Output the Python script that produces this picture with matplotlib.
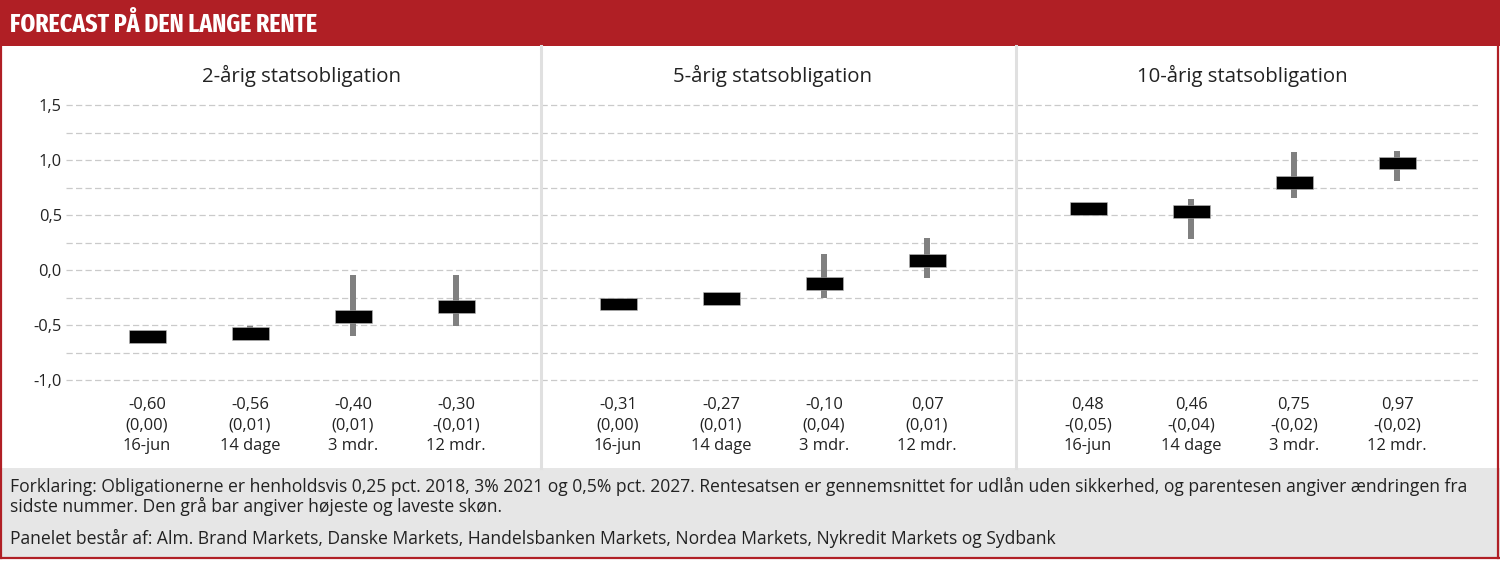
import matplotlib
matplotlib.use("Agg")
import os
import matplotlib.pyplot as plt
import matplotlib.font_manager as fm
import numpy as np
from matplotlib.patches import Rectangle
from matplotlib.lines import Line2D
from matplotlib.transforms import blended_transform_factory

# ---------------- data ----------------
panel_titles = ["2-årig statsobligation", "5-årig statsobligation", "10-årig statsobligation"]
horizons = ["16-jun", "14 dage", "3 mdr.", "12 mdr."]

# forecast level (centre of black bar)
level_2y = [-0.605, -0.574, -0.42, -0.33]
level_5y = [-0.31, -0.262, -0.122, 0.087]
level_10y = [0.562, 0.535, 0.795, 0.973]

# highest / lowest forecast (grey bar), nan = no range shown
high_2y = [np.nan, -0.509, -0.042, -0.042]
low_2y = [np.nan, -0.60, -0.603, -0.51]
high_5y = [np.nan, np.nan, 0.145, 0.295]
low_5y = [np.nan, np.nan, -0.25, -0.072]
high_10y = [np.nan, 0.642, 1.071, 1.083]
low_10y = [np.nan, 0.285, 0.654, 0.808]

# label values under each bar
value_2y = ["-0,60", "-0,56", "-0,40", "-0,30"]
change_2y = ["(0,00)", "(0,01)", "(0,01)", "-(0,01)"]
value_5y = ["-0,31", "-0,27", "-0,10", "0,07"]
change_5y = ["(0,00)", "(0,01)", "(0,04)", "(0,01)"]
value_10y = ["0,48", "0,46", "0,75", "0,97"]
change_10y = ["-(0,05)", "-(0,04)", "-(0,02)", "-(0,02)"]

yticks = [-1.0, -0.5, 0.0, 0.5, 1.0, 1.5]
ytick_labels = ["-1,0", "-0,5", "0,0", "0,5", "1,0", "1,5"]

title = "FORECAST PÅ DEN LANGE RENTE"
note1 = ("Forklaring: Obligationerne er henholdsvis 0,25 pct. 2018, 3% 2021 og 0,5% pct. 2027. "
         "Rentesatsen er gennemsnittet for udlån uden sikkerhed, og parentesen angiver ændringen fra")
note2 = "sidste nummer. Den grå bar angiver højeste og laveste skøn."
note3 = ("Panelet består af: Alm. Brand Markets, Danske Markets, Handelsbanken Markets, "
         "Nordea Markets, Nykredit Markets og Sydbank")

# ---------------- style ----------------
plt.rcParams['font.family'] = ['Open Sans', 'DejaVu Sans']
RED = "#B01F25"
FOOT = "#E6E6E6"
SEP = "#E0E0E0"
TXT = "#222222"
GRID = "#CACACA"


def find_condensed_bold():
    best, best_score = None, -1
    for f in fm.fontManager.ttflist:
        nm = (f.name + " " + os.path.basename(f.fname)).lower()
        if "extracondensed" in nm or "extra condensed" in nm:
            score = 40
        elif "semicondensed" in nm or "semi condensed" in nm:
            score = 20
        elif "condensed" in nm:
            score = 30
        elif "narrow" in nm:
            score = 25
        else:
            continue
        if "italic" in nm or "oblique" in nm:
            continue
        w = f.weight if isinstance(f.weight, int) else 400
        if "extrabold" in nm or "black" in nm:
            score += 6
        elif "bold" in nm and "semibold" not in nm:
            score += 8
        elif "semibold" in nm:
            score += 4
        elif w >= 600:
            score += 5
        if "mono" in nm or "serif" in nm.replace("sans", ""):
            score -= 15
        if score > best_score:
            best, best_score = f.fname, score
    return best


W, H = 1500, 561
fig = plt.figure(figsize=(W / 100, H / 100), dpi=100)


def fx(px):
    return px / W


def fy(py):
    return 1 - py / H


# background pieces
fig.patches.append(Rectangle((0, fy(46)), 1, 46 / H, transform=fig.transFigure,
                             facecolor=RED, edgecolor="none", zorder=0))
fig.patches.append(Rectangle((0, fy(558)), 1, (558 - 468) / H, transform=fig.transFigure,
                             facecolor=FOOT, edgecolor="none", zorder=0))
fig.add_artist(Line2D([fx(1), fx(1)], [fy(0), fy(558)], transform=fig.transFigure, color=RED, lw=1.6))
fig.add_artist(Line2D([fx(1498), fx(1498)], [fy(0), fy(558)], transform=fig.transFigure, color=RED, lw=1.6))
fig.add_artist(Line2D([fx(0), fx(1499)], [fy(558), fy(558)], transform=fig.transFigure, color=RED, lw=1.6))

# title in a condensed bold face if one is installed
cf = find_condensed_bold()
if cf:
    tprop = fm.FontProperties(fname=cf, size=23)
else:
    tprop = fm.FontProperties(family="DejaVu Sans", weight="bold", size=23)
ttl = fig.text(fx(10), fy(25), title, color="white", fontproperties=tprop,
               va="center", ha="left")
renderer = fig.canvas.get_renderer()
tw = ttl.get_window_extent(renderer).width
target_w = 308
if tw > target_w * 1.03:
    tprop.set_size(23 * target_w / tw)
    ttl.set_fontproperties(tprop)

levels = [level_2y, level_5y, level_10y]
highs = [high_2y, high_5y, high_10y]
lows = [low_2y, low_5y, low_10y]
values = [value_2y, value_5y, value_10y]
changes = [change_2y, change_5y, change_10y]

# axes placement (pixels): left, right, and first-category centre
panels_px = [(66, 541, 147), (541, 1016, 618), (1016, 1478, 1088)]
step = 103.0
ax_bottom, ax_top = 391, 94

x = np.arange(len(horizons))
for i, (l, r, c0) in enumerate(panels_px):
    ax = fig.add_axes([fx(l), fy(ax_bottom), (r - l) / W, (ax_bottom - ax_top) / H])
    ax.set_facecolor("none")
    ax.set_xlim(-(c0 - l) / step, 3 + (r - (c0 + 3 * step)) / step)
    ax.set_ylim(-1.1, 1.6)
    for s in ax.spines.values():
        s.set_visible(False)
    for g in np.arange(-1.0, 1.51, 0.25):
        ax.axhline(g, color=GRID, lw=0.9, dashes=(5, 2.6), zorder=1)
    hi = np.array(highs[i], dtype=float)
    lo = np.array(lows[i], dtype=float)
    m = ~np.isnan(hi)
    ax.bar(x[m], (hi - lo)[m], bottom=lo[m], width=6 / step, color="#808080",
           edgecolor="none", zorder=2)
    lev = np.array(levels[i])
    hh = 0.116
    ax.bar(x, hh, bottom=lev - hh / 2, width=37 / step, color="black",
           edgecolor="#BBBBBB", linewidth=0.4, zorder=3)
    ax.set_xticks(x)
    ax.set_xticklabels([f"{v}\n{c}\n{h}" for v, c, h in zip(values[i], changes[i], horizons)],
                       fontsize=11.9, color=TXT, linespacing=1.38)
    ax.tick_params(axis="x", length=0, pad=4)
    ax.set_yticks(yticks)
    if i == 0:
        ax.set_yticklabels(ytick_labels, fontsize=11.8, color=TXT)
        ax.tick_params(axis="y", length=0, pad=3)
    else:
        ax.tick_params(axis="y", length=0, labelleft=False)
    tr = blended_transform_factory(ax.transData, fig.transFigure)
    ax.text(1.5, fy(76), panel_titles[i], transform=tr, ha="center", va="center",
            fontsize=14.7, color=TXT)

for sx in (541, 1016):
    fig.add_artist(Line2D([fx(sx), fx(sx)], [fy(46), fy(468)], transform=fig.transFigure,
                          color=SEP, lw=2.2, zorder=5))

fig.text(fx(10), fy(486), note1, fontsize=12.65, color=TXT, va="center", ha="left")
fig.text(fx(10), fy(506), note2, fontsize=12.65, color=TXT, va="center", ha="left")
fig.text(fx(10), fy(538), note3, fontsize=12.65, color=TXT, va="center", ha="left")

fig.savefig("out.png", dpi=100, facecolor="white")
